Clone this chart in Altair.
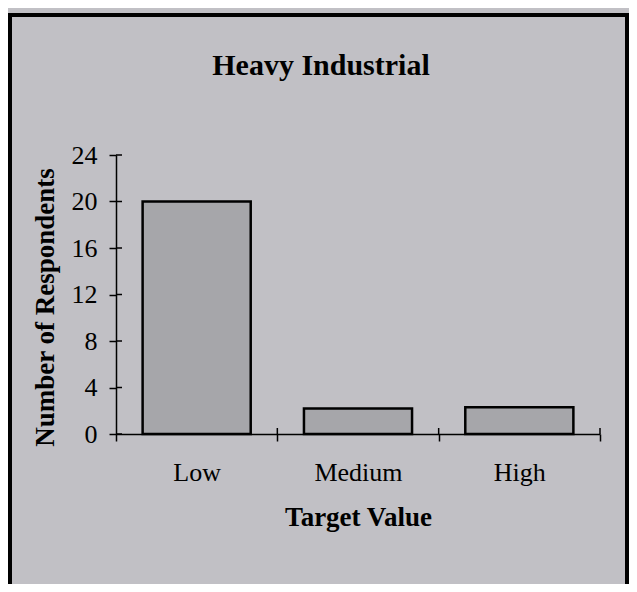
import altair as alt
import pandas as pd

categories = ["Low", "Medium", "High"]
respondents = [20, 2.2, 2.3]
y_tick_values = [0, 4, 8, 12, 16, 20, 24]

bars_df = pd.DataFrame({"Target Value": categories, "Respondents": respondents})
yticks_df = pd.DataFrame({"Respondents": y_tick_values})
frame_df = pd.DataFrame({"k": [0]})

FONT = "Liberation Serif"
BG = "#c1c0c5"
W, H = 484, 279

x_scale = alt.Scale(domain=categories, paddingInner=0, paddingOuter=0)
y_scale = alt.Scale(domain=[0, 24], nice=False)

axis_common = dict(
    domainColor="black", domainWidth=1.5, tickColor="black", tickWidth=1.5,
    tickSize=7, labelFont=FONT, labelFontSize=26, labelColor="black",
    titleFont=FONT, titleFontSize=27, titleFontWeight="bold", titleColor="black",
    grid=False,
)

x_axis = alt.Axis(title="Target Value", tickBand="extent", labelAngle=0,
                  labelPadding=18, titleX=242, titleY=91,
                  titleAlign="center", titleBaseline="alphabetic", **axis_common)
y_axis = alt.Axis(title="Number of Respondents", values=y_tick_values,
                  labelPadding=12, titleX=-63, titleY=152, titleAngle=270,
                  titleAlign="center", titleBaseline="alphabetic", **axis_common)

x_enc = alt.X("Target Value:N", scale=x_scale, sort=categories, axis=x_axis)
y_enc = alt.Y("Respondents:Q", scale=y_scale, axis=y_axis)

bars = alt.Chart(bars_df).mark_bar(
    width=alt.RelativeBandSize(0.67), fill="#a6a6aa", stroke="black", strokeWidth=2.5
).encode(x=x_enc, y=y_enc)

ytick_in = alt.Chart(yticks_df).mark_rule(color="black", strokeWidth=1.5).encode(
    y=y_enc, x=alt.value(0), x2=alt.value(6),
)

xtick_in = alt.Chart(bars_df).mark_rule(color="black", strokeWidth=1.5).encode(
    x=alt.X("Target Value:N", scale=x_scale, sort=categories, bandPosition=1, axis=x_axis),
    y=alt.value(H), y2=alt.value(H - 6),
)

frame = alt.Chart(frame_df).mark_rect(fill="transparent", stroke="black", strokeWidth=4).encode(
    x=alt.value(-106), x2=alt.value(511), y=alt.value(-140), y2=alt.value(600),
)

chart = alt.layer(bars, ytick_in, xtick_in, frame).properties(
    width=W, height=H,
    title=alt.TitleParams("Heavy Industrial", font=FONT, fontSize=30, fontWeight="bold",
                          color="black", anchor="middle", dx=-37, offset=-92,
                          baseline="alphabetic"),
    autosize=alt.AutoSizeParams(type="none"),
    padding={"left": 108, "top": 147, "right": 29, "bottom": 150},
    background=BG,
).configure_view(stroke=None)

chart.save("out.html", embed_options={"renderer": "svg", "actions": False})
